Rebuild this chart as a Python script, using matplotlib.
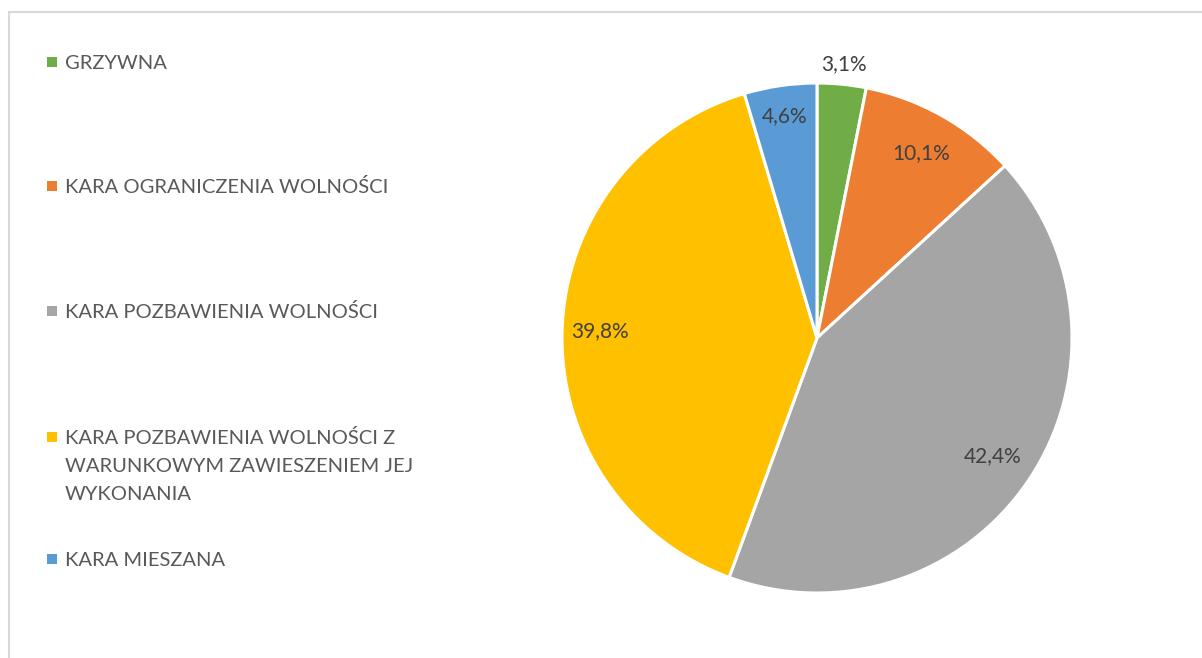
import matplotlib
matplotlib.use("Agg")
import numpy as np
import matplotlib.pyplot as plt
from matplotlib.patches import Rectangle

# data
categories = [
    "GRZYWNA",
    "KARA OGRANICZENIA WOLNOŚCI",
    "KARA POZBAWIENIA WOLNOŚCI",
    "KARA POZBAWIENIA WOLNOŚCI Z\nWARUNKOWYM ZAWIESZENIEM JEJ\nWYKONANIA",
    "KARA MIESZANA",
]
shares = [3.1, 10.1, 42.4, 39.8, 4.6]
colors = ["#70AD47", "#ED7D31", "#A5A5A5", "#FFC000", "#5B9BD5"]

# label distance from centre (fraction of radius), per slice
label_dist = [1.08, 0.83, 0.83, 0.85, 0.88]
# legend rows: centre y of first line (px from top)
legend_y = [62, 186, 311, 437, 559]
line_step = 28

W, H = 1202, 658
legend_col = "#595959"
label_col = "#404040"
font = "Lato"
fsize = 14.5

fig = plt.figure(figsize=(W / 100, H / 100), dpi=100)

# light frame, cut by right and bottom edges
fig.patches.append(Rectangle((9 / W, -0.1), 1.2, (H - 12) / H + 0.1,
                             transform=fig.transFigure, fill=False,
                             edgecolor="#D9D9D9", linewidth=1.5))

# pie axes: centre (817, 338), radius 255 px
cx, cy, R = 817, 338, 255
side = 2 * R * 1.2
ax = fig.add_axes([(cx - side / 2) / W, (H - cy - side / 2) / H, side / W, side / H])
ax.pie(shares, colors=colors, startangle=90, counterclock=False,
       radius=1, wedgeprops=dict(edgecolor="white", linewidth=2.2))
ax.set_xlim(-1.2, 1.2)
ax.set_ylim(-1.2, 1.2)
ax.set_aspect("equal")
ax.axis("off")

# data labels
start = 90.0
for val, d in zip(shares, label_dist):
    mid = start - val * 3.6 / 2
    start -= val * 3.6
    x = d * np.cos(np.radians(mid))
    y = d * np.sin(np.radians(mid))
    ax.text(x, y, f"{val:.1f}%".replace(".", ","), ha="center", va="center",
            fontsize=fsize + 0.5, color=label_col, family=font)

# legend
for name, col, y in zip(categories, colors, legend_y):
    fig.patches.append(Rectangle((47 / W, (H - y - 5) / H), 10 / W, 10 / H,
                                 transform=fig.transFigure, facecolor=col,
                                 edgecolor="none"))
    for i, line in enumerate(name.split("\n")):
        base = y + 7 + i * line_step
        fig.text(65 / W, (H - base) / H, line, ha="left", va="baseline",
                 fontsize=fsize, color=legend_col, family=font)

fig.savefig("out.png", dpi=100)
